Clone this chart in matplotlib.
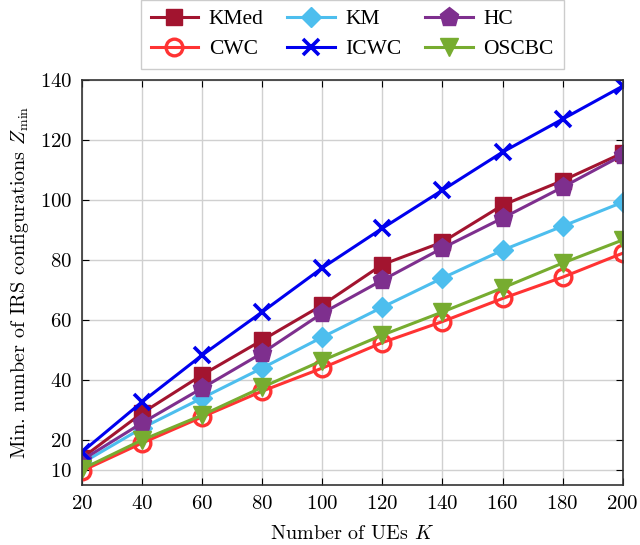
import numpy as np
import matplotlib
matplotlib.use('Agg')
import matplotlib.pyplot as plt

plt.rcParams['font.family'] = 'cmr10'
plt.rcParams['mathtext.fontset'] = 'cm'
plt.rcParams['axes.formatter.use_mathtext'] = True

# data
num_ues = [20, 40, 60, 80, 100, 120, 140, 160, 180, 200]
kmed = [14, 29, 41.7, 53.3, 65, 78.5, 86, 98.3, 106.5, 115.7]
km = [12.3, 24, 34, 44, 54.3, 64.3, 74, 83.3, 91.3, 99.3]
hc = [13.3, 25.7, 37.3, 49, 62.3, 73.3, 84, 94, 104.3, 115]
cwc = [9.7, 19, 27.7, 36.3, 44, 52.5, 59.5, 67.2, 74.3, 82.3]
icwc = [16, 32.7, 48.3, 62.7, 77.4, 90.6, 103.3, 116, 127, 138]
oscbc = [10.3, 20, 28.3, 37.6, 46.5, 55, 62.7, 70.7, 79, 86.7]

yticks = [10, 20, 40, 60, 80, 100, 120, 140]
xticks = [20, 40, 60, 80, 100, 120, 140, 160, 180, 200]

fig = plt.figure(figsize=(6.4, 5.45), dpi=100)
ax = fig.add_axes([0.128, 0.110, 0.845, 0.743])

lw = 2.2
h_kmed, = ax.plot(num_ues, kmed, color='#A2142F', marker='s', markersize=12, lw=lw, label='KMed')
h_km, = ax.plot(num_ues, km, color='#4DBEEE', marker='D', markersize=10, lw=lw, label='KM')
h_hc, = ax.plot(num_ues, hc, color='#7E2F8E', marker='p', markersize=14, lw=lw, label='HC')
h_cwc, = ax.plot(num_ues, cwc, color='#FF3333', marker='o', markersize=12, markerfacecolor='none',
                 markeredgewidth=2.4, lw=lw, label='CWC')
h_icwc, = ax.plot(num_ues, icwc, color='#0000EE', marker='x', markersize=11, markeredgewidth=2.6,
                  lw=lw, label='ICWC')
h_oscbc, = ax.plot(num_ues, oscbc, color='#77AC30', marker='v', markersize=13, lw=lw, label='OSCBC')

ax.set_xlim(20, 200)
ax.set_ylim(5, 140)
ax.set_xticks(xticks)
ax.set_yticks(yticks)
ax.tick_params(direction='in', top=True, right=True, labelsize=15, length=5, pad=7)
ax.grid(True, color='#d0d0d0', lw=1.0)
ax.set_axisbelow(True)
for s in ax.spines.values():
    s.set_linewidth(1.2)
    s.set_color('#333333')

ax.set_xlabel('Number of UEs $K$', fontsize=14.5, labelpad=9)
ax.set_ylabel('Min. number of IRS configurations $Z_{\\min}$', fontsize=14.5, labelpad=6)

# legend filled row by row
handles = [h_kmed, h_cwc, h_km, h_icwc, h_hc, h_oscbc]
leg = ax.legend(handles=handles, loc='lower center', bbox_to_anchor=(0.5, 1.028), ncol=3,
                prop={'family': 'Liberation Serif', 'size': 15.5},
                handlelength=2.2, columnspacing=1.1, handletextpad=0.5,
                labelspacing=0.45, borderpad=0.45, fancybox=False,
                edgecolor='#cccccc', framealpha=1, borderaxespad=0)
leg.get_frame().set_linewidth(1.0)

fig.savefig('out.png', dpi=100)
